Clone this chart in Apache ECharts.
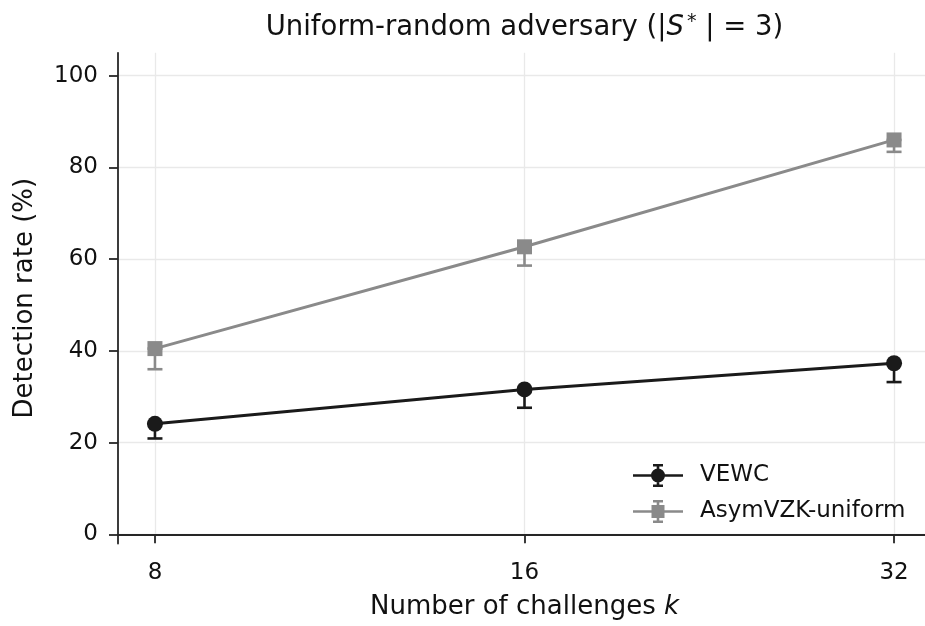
<!DOCTYPE html>
<html>
<head>
<meta charset="utf-8">
<script src="https://cdn.jsdelivr.net/npm/echarts@6/dist/echarts.min.js"></script>
<style>
  html, body { margin: 0; padding: 0; background: #ffffff; }
  #chart { width: 925px; height: 626px; }
</style>
</head>
<body>
<div id="chart"></div>
<script>
// Number of challenges k (log2-spaced x axis)
const challenges = [8, 16, 32];
// Detection rate (%) and lower end of the error bar for each method
const vewcRate = [24.1, 31.6, 37.3];
const vewcLow = [20.9, 27.6, 33.2];
const asymRate = [40.5, 62.7, 86.0];
const asymLow = [36.0, 58.6, 83.4];
// Tick labels
const yTicks = [0, 20, 40, 60, 80, 100];
const xTicks = [8, 16, 32];
const seriesNames = ['VEWC', 'AsymVZK-uniform'];

const FONT = 'DejaVu Sans';
const INK = '#111111';
const DARK = '#1a1a1a';
const GREY = '#8a8a8a';

// Legend glyphs: line, error bar with caps and the marker, in one path
const barPart = 'M0 10.25 H50 V12.75 H0 Z M20 0 H30 V2.4 H20 Z M20 20.6 H30 V23 H20 Z M23.7 0 H26.3 V23 H23.7 Z ';
const circleIcon = 'path://' + barPart + 'M18 11.5 A7 7 0 1 1 32 11.5 A7 7 0 1 1 18 11.5 Z';
const squareIcon = 'path://' + barPart + 'M18.5 5 H31.5 V18 H18.5 Z';

function pairs(xs, ys) { return xs.map((x, i) => [x, ys[i]]); }
function triples(xs, lo, hi) { return xs.map((x, i) => [x, lo[i], hi[i]]); }

// Vertical error bar with a cap at each end
function errorBars(color) {
  return function (params, api) {
    const x = api.value(0);
    const lo = api.coord([x, api.value(1)]);
    const hi = api.coord([x, api.value(2)]);
    const half = 7.5;
    const style = { stroke: color, lineWidth: 2.6, fill: null };
    return {
      type: 'group',
      children: [
        { type: 'line', shape: { x1: lo[0], y1: lo[1], x2: hi[0], y2: hi[1] }, style: style },
        { type: 'line', shape: { x1: lo[0] - half, y1: lo[1], x2: lo[0] + half, y2: lo[1] }, style: style },
        { type: 'line', shape: { x1: hi[0] - half, y1: hi[1], x2: hi[0] + half, y2: hi[1] }, style: style }
      ]
    };
  };
}

const axisLineStyle = { color: '#262626', width: 1.8 };
const gridLineStyle = { color: '#e9e9e9', width: 1.3 };

const chart = echarts.init(document.getElementById('chart'), null, { renderer: 'canvas' });
chart.setOption({
  animation: false,
  backgroundColor: '#ffffff',
  title: {
    text: '{n|Uniform-random adversary (|}{i|S}{s|*}{n| | = 3)}',
    left: 524.5,
    textAlign: 'center',
    top: 13,
    padding: 0,
    textStyle: {
      fontWeight: 'normal',
      rich: {
        n: { fontSize: 27.5, fontFamily: FONT, fontWeight: 'normal', color: INK },
        i: { fontSize: 27.5, fontFamily: FONT, fontWeight: 'normal', fontStyle: 'italic', color: INK },
        s: { fontSize: 19, fontFamily: FONT, fontWeight: 'normal', color: INK, padding: [0, 0, 10, 3] }
      }
    }
  },
  grid: {
    left: 118, right: -6, top: 52.8, bottom: 82.5,
    containLabel: false,
    outerBoundsMode: 'none'
  },
  legend: {
    orient: 'vertical',
    left: 633,
    top: 464,
    padding: 0,
    itemWidth: 50,
    itemHeight: 23,
    itemGap: 13,
    itemStyle: { borderWidth: 0 },
    textStyle: { fontSize: 23, fontFamily: FONT, color: INK, padding: [0, 0, 0, 12] },
    data: [
      { name: seriesNames[0], icon: circleIcon },
      { name: seriesNames[1], icon: squareIcon }
    ]
  },
  xAxis: {
    type: 'log',
    logBase: 2,
    min: Math.pow(2, 2.9),
    max: Math.pow(2, 5.1),
    name: '{n|Number of challenges }{i|k}',
    nameLocation: 'middle',
    nameGap: 51,
    nameTextStyle: {
      rich: {
        n: { fontSize: 26, fontFamily: FONT, color: INK },
        i: { fontSize: 26, fontFamily: FONT, fontStyle: 'italic', color: INK }
      }
    },
    axisLine: { show: true, lineStyle: axisLineStyle },
    axisTick: { show: true, length: 9, lineStyle: axisLineStyle, customValues: xTicks },
    axisLabel: { customValues: xTicks, fontSize: 23, fontFamily: FONT, color: INK, margin: 18 },
    splitLine: { show: true, lineStyle: gridLineStyle },
    minorSplitLine: { show: false }
  },
  yAxis: {
    type: 'value',
    min: -2,
    max: 105,
    name: 'Detection rate (%)',
    nameLocation: 'middle',
    nameGap: 80,
    nameTextStyle: { fontSize: 26, fontFamily: FONT, color: INK },
    axisLine: { show: true, lineStyle: axisLineStyle },
    axisTick: { show: true, length: 9, lineStyle: axisLineStyle, customValues: yTicks },
    axisLabel: { customValues: yTicks, fontSize: 23, fontFamily: FONT, color: INK, margin: 20 },
    splitLine: { show: true, lineStyle: gridLineStyle }
  },
  series: [
    {
      name: seriesNames[0] + ' error',
      type: 'custom',
      z: 1,
      silent: true,
      renderItem: errorBars(DARK),
      encode: { x: 0, y: [1, 2] },
      data: triples(challenges, vewcLow, vewcRate)
    },
    {
      name: seriesNames[1] + ' error',
      type: 'custom',
      z: 1,
      silent: true,
      renderItem: errorBars(GREY),
      encode: { x: 0, y: [1, 2] },
      data: triples(challenges, asymLow, asymRate)
    },
    {
      name: seriesNames[0],
      type: 'line',
      z: 3,
      data: pairs(challenges, vewcRate),
      symbol: 'circle',
      symbolSize: 16,
      lineStyle: { width: 3, color: DARK },
      itemStyle: { color: DARK, borderWidth: 0 },
      emphasis: { disabled: true }
    },
    {
      name: seriesNames[1],
      type: 'line',
      z: 3,
      data: pairs(challenges, asymRate),
      symbol: 'rect',
      symbolSize: 15,
      lineStyle: { width: 3, color: GREY },
      itemStyle: { color: GREY, borderWidth: 0 },
      emphasis: { disabled: true }
    }
  ]
});
</script>
</body>
</html>
